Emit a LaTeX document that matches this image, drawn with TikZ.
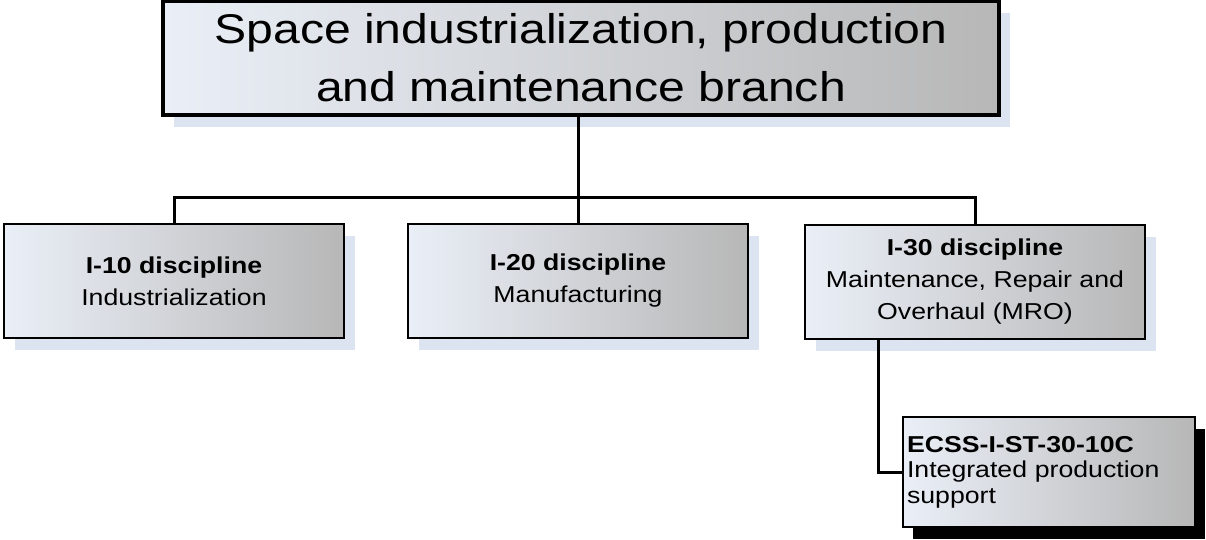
\documentclass[tikz,border=0pt]{standalone}
\usepackage{fontspec}
\setmainfont{Liberation Sans}
\newfontfamily\boxfont[FakeStretch=1.16]{Liberation Sans}
\usetikzlibrary{shadows,calc}
\definecolor{shblue}{HTML}{DCE4F1}
\definecolor{lightend}{HTML}{EAEFF7}
\definecolor{darkend}{HTML}{B7B7B7}
\tikzset{
  x=1pt, y=-1pt,
  gbox/.style={rectangle, draw=black, line width=2pt, left color=lightend, right color=darkend,
    drop shadow={shadow xshift=11pt, shadow yshift=-12pt, fill=shblue, opacity=1}, inner sep=0pt},
  dbox/.style={gbox, minimum width=340pt, minimum height=114pt, align=center,
    font=\boxfont\fontsize{23}{32}\selectfont},
  kbox/.style={rectangle, draw=black, line width=1.6pt, left color=lightend, right color=darkend,
    drop shadow={shadow xshift=10pt, shadow yshift=-12pt, fill=black, opacity=1},
    minimum width=292pt, minimum height=110pt, inner sep=4pt, align=left,
    font=\boxfont\fontsize{23}{25.5}\selectfont},
  conn/.style={draw=black, line width=3pt},
}
\begin{document}
\begin{tikzpicture}
\useasboundingbox (0,0) rectangle (1206,539);
\node[gbox, line width=4pt, minimum width=836pt, minimum height=114pt, align=center,
  font=\boxfont\fontsize{41.5}{58}\selectfont] (title) at (581,58) {Space industrialization, production\\and maintenance branch};
\node[dbox] (b1) at (174,281) {\textbf{I-10 discipline}\\Industrialization};
\node[dbox] (b2) at (578,281) {\textbf{I-20 discipline}\\Manufacturing};
\node[dbox] (b3) at (975,282) {\textbf{I-30 discipline}\\Maintenance, Repair and\\Overhaul (MRO)};
\node[kbox, text width=284pt] (b4) at (1049,472) {\textbf{ECSS-I-ST-30-10C}\\Integrated production\\support};
\coordinate (bar) at (0,197);
\coordinate (drop) at (878,0);
\draw[conn] (b2.north |- title.south) -- (b2.north);
\draw[conn] (b1.north) -- (b1.north |- bar) -- (b3.north |- bar) -- (b3.north);
\draw[conn] (drop |- b3.south) |- (b4.west);
\end{tikzpicture}
\end{document}
